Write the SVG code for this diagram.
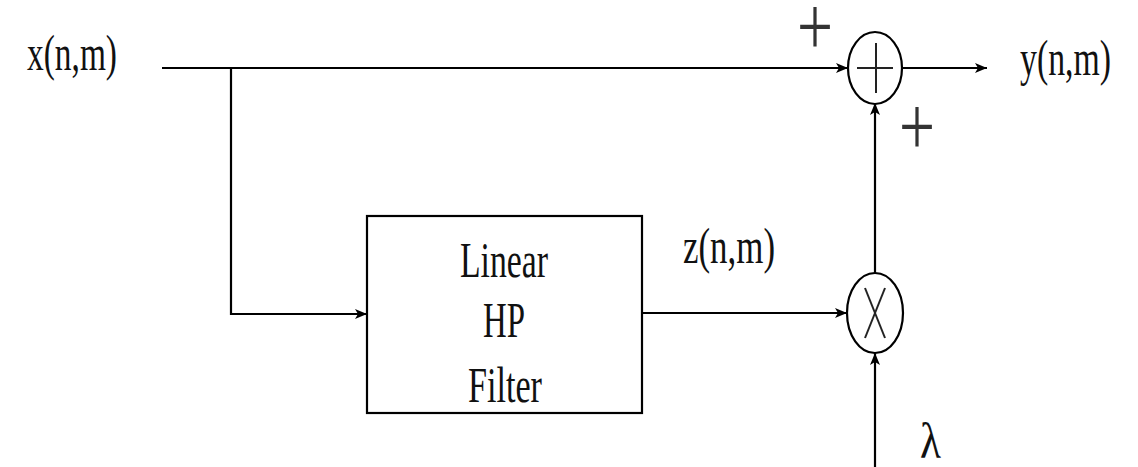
<svg xmlns="http://www.w3.org/2000/svg" width="1138" height="467" viewBox="0 0 1138 467">
<style>
.ln{stroke:#000;stroke-width:2.2;fill:none}
.sym{stroke:#222;stroke-width:2;fill:none}
.t{font-family:"Liberation Serif","Times New Roman",serif;font-size:50px;fill:#111}
.p{font-family:"Liberation Serif","Times New Roman",serif;font-size:84px;fill:#333;text-anchor:middle}
</style>
<defs>
<marker id="ah" viewBox="0 0 12 10" refX="12" refY="5" markerWidth="12" markerHeight="10" markerUnits="userSpaceOnUse" orient="auto">
<path d="M0,0 L12,5 L0,10 L3,5 Z" fill="#000"/>
</marker>
</defs>
<rect width="1138" height="467" fill="#fff"/>
<g id="connectors">
<line class="ln" x1="162" y1="68" x2="848" y2="68" marker-end="url(#ah)"/>
<polyline class="ln" points="231,68 231,314 367,314" marker-end="url(#ah)"/>
<line class="ln" x1="642" y1="313" x2="847" y2="313" marker-end="url(#ah)"/>
<line class="ln" x1="875" y1="273" x2="875" y2="103" marker-end="url(#ah)"/>
<line class="ln" x1="875" y1="467" x2="875" y2="353" marker-end="url(#ah)"/>
<line class="ln" x1="902" y1="68" x2="987" y2="68" marker-end="url(#ah)"/>
</g>
<g id="input">
<text class="t" x="27" y="70" textLength="90" lengthAdjust="spacingAndGlyphs">x(n,m)</text>
</g>
<g id="output">
<text class="t" x="1020" y="75" textLength="91" lengthAdjust="spacingAndGlyphs">y(n,m)</text>
</g>
<g id="filter">
<rect class="ln" x="367" y="216" width="275" height="197"/>
<text class="t" x="460" y="277" textLength="88" lengthAdjust="spacingAndGlyphs">Linear</text>
<text class="t" x="483" y="337" textLength="42" lengthAdjust="spacingAndGlyphs">HP</text>
<text class="t" x="468" y="402" textLength="74" lengthAdjust="spacingAndGlyphs">Filter</text>
</g>
<g id="z-label">
<text class="t" x="683" y="263" textLength="92" lengthAdjust="spacingAndGlyphs">z(n,m)</text>
</g>
<g id="adder">
<ellipse class="ln" cx="875" cy="68" rx="27" ry="36"/>
<line class="sym" x1="857" y1="68" x2="893" y2="68"/>
<line class="sym" x1="876" y1="43" x2="876" y2="93"/>
<text class="p" x="815" y="55" textLength="36" lengthAdjust="spacingAndGlyphs">+</text>
<text class="p" x="917" y="155" textLength="36" lengthAdjust="spacingAndGlyphs">+</text>
</g>
<g id="multiplier">
<ellipse class="ln" cx="875" cy="313" rx="28" ry="40"/>
<line class="sym" x1="865" y1="288" x2="885" y2="338"/>
<line class="sym" x1="885" y1="288" x2="865" y2="338"/>
</g>
<g id="lambda">
<text class="t" x="920" y="458" textLength="21" lengthAdjust="spacingAndGlyphs">λ</text>
</g>
</svg>
